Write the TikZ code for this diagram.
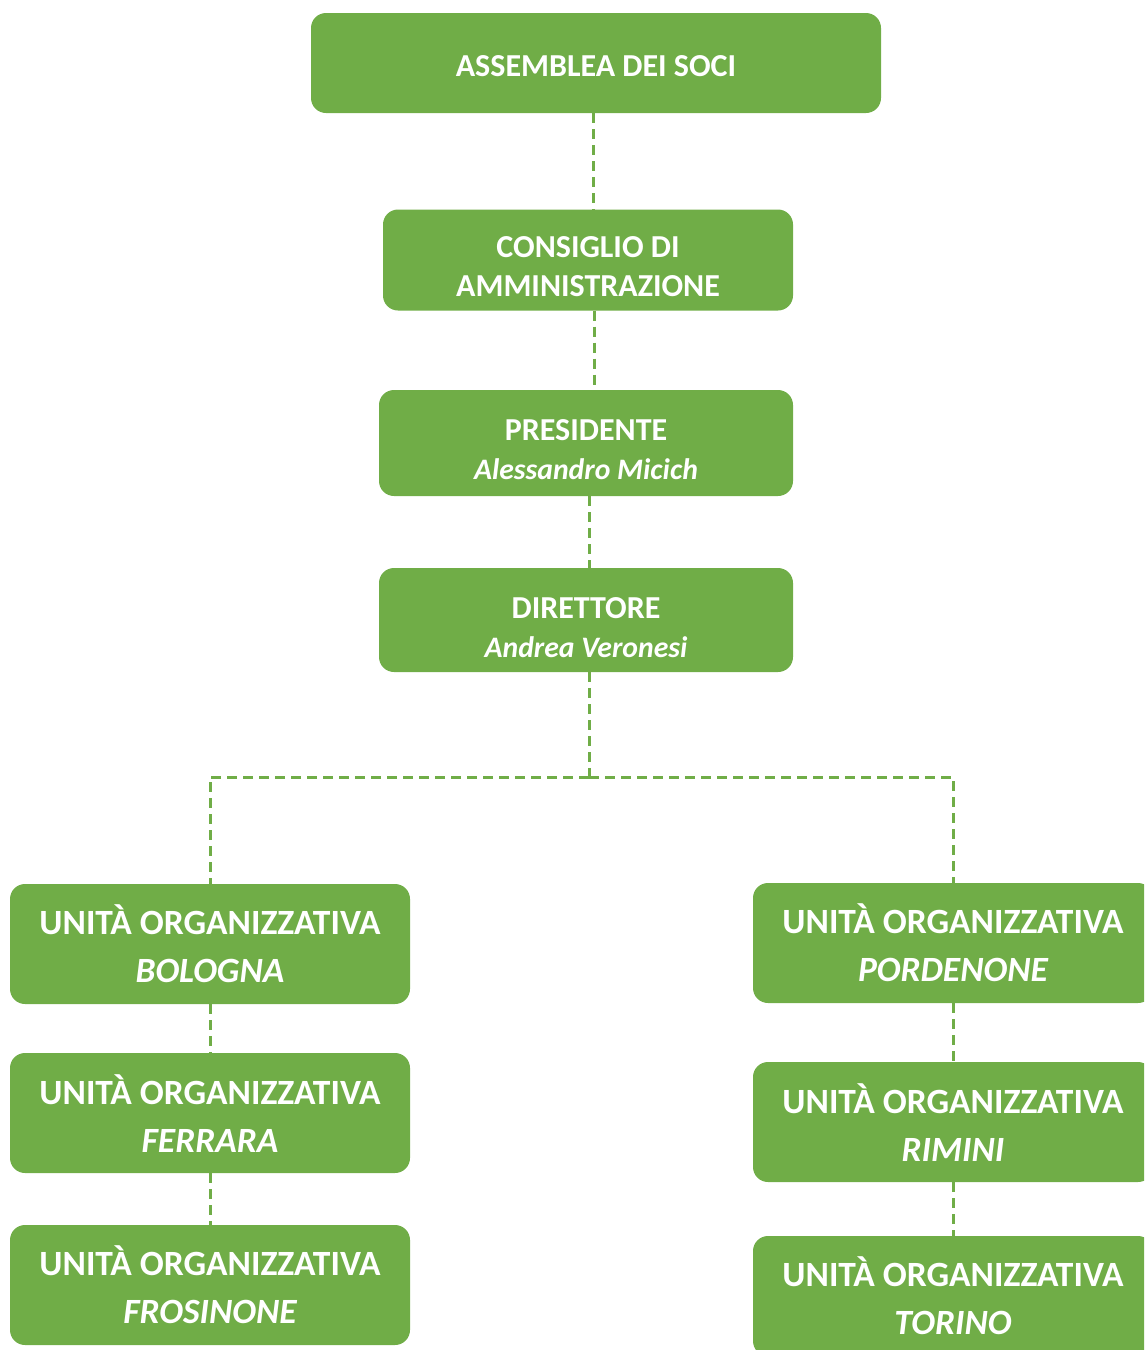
\documentclass[tikz,border=0pt]{standalone}
\usepackage{fontspec}
\setmainfont{Carlito}
\definecolor{ogreen}{HTML}{70AD47}
\newcommand{\dn}[1]{\rule{0pt}{#1}}
\newcommand{\nm}{\itshape\fontsize{29.7}{38.5}\selectfont}
\begin{document}
\begin{tikzpicture}[x=1pt,y=-1pt,
  box/.style={draw=none,fill=ogreen,rounded corners=15pt,text=white,align=center,
    font=\bfseries\fontsize{32}{38.5}\selectfont,inner sep=0pt},
  unit/.style={box,minimum width=400pt,minimum height=120pt,
    font=\bfseries\fontsize{35.5}{48}\selectfont},
  link/.style={draw=ogreen,line width=3pt,dash pattern=on 10pt off 6pt}]
\useasboundingbox (0,0) rectangle (1144,1350);
\clip (0,0) rectangle (1144,1350);
\node[box,minimum width=570pt,minimum height=100pt] (ass) at (596,63) {\dn{28pt}ASSEMBLEA DEI SOCI};
\node[box,minimum width=410pt,minimum height=101pt] (cda) at (588,260) {\dn{34pt}CONSIGLIO DI\\AMMINISTRAZIONE};
\node[box,minimum width=414pt,minimum height=106pt] (pres) at (586,443) {\dn{34pt}PRESIDENTE\\\nm Alessandro Micich};
\node[box,minimum width=414pt,minimum height=104pt] (dir) at (586,620) {\dn{36pt}DIRETTORE\\\nm Andrea Veronesi};
\node[unit] (bo) at (210,944) {\dn{30pt}UNITÀ ORGANIZZATIVA\\\itshape BOLOGNA};
\node[unit] (fe) at (210,1113) {\dn{30pt}UNITÀ ORGANIZZATIVA\\\itshape FERRARA};
\node[unit] (fr) at (210,1285) {\dn{30pt}UNITÀ ORGANIZZATIVA\\\itshape FROSINONE};
\node[unit] (pn) at (953,943) {\dn{30pt}UNITÀ ORGANIZZATIVA\\\itshape PORDENONE};
\node[unit] (rn) at (953,1122) {\dn{30pt}UNITÀ ORGANIZZATIVA\\\itshape RIMINI};
\node[unit] (to) at (953,1296) {\dn{30pt}UNITÀ ORGANIZZATIVA\\\itshape TORINO};
\coordinate (j) at (589,777);
\path[link] (ass.south -| 593,0) -- (cda.north -| 593,0);
\path[link] (cda.south -| 594,0) -- (pres.north -| 594,0);
\path[link] (pres.south -| 589,0) -- (dir.north -| 589,0);
\path[link] (dir.south -| j) -- (j);
\path[link] (j) -- (j -| bo) -- (bo.north);
\path[link] (j) -- (j -| pn) -- (pn.north);
\path[link] (bo) -- (fe);
\path[link] (fe) -- (fr);
\path[link] (pn) -- (rn);
\path[link] (rn) -- (to);
\end{tikzpicture}
\end{document}
